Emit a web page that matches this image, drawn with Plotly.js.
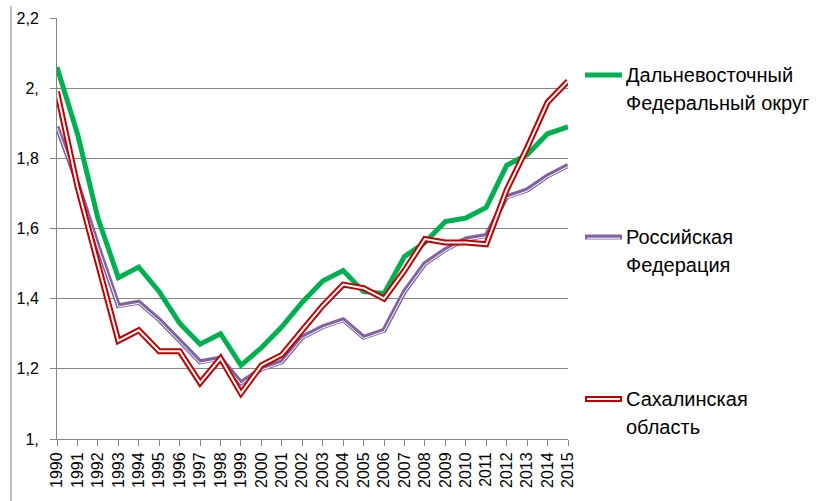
<!DOCTYPE html>
<html>
<head>
<meta charset="utf-8">
<script src="https://cdn.plot.ly/plotly-3.0.1.min.js"></script>
<style>
  html, body { margin: 0; padding: 0; background: #fff; }
  #chart { width: 818px; height: 501px; }
</style>
</head>
<body>
<div id="chart"></div>
<script>
/* data */
const years = [1990, 1991, 1992, 1993, 1994, 1995, 1996, 1997, 1998, 1999, 2000, 2001, 2002,
  2003, 2004, 2005, 2006, 2007, 2008, 2009, 2010, 2011, 2012, 2013, 2014, 2015];

const far_east = [2.06, 1.87, 1.63, 1.46, 1.49, 1.42, 1.33, 1.27, 1.30, 1.21, 1.26, 1.32, 1.39,
  1.45, 1.48, 1.42, 1.415, 1.52, 1.56, 1.62, 1.63, 1.66, 1.78, 1.81, 1.87, 1.89];
const russia = [1.89, 1.73, 1.55, 1.38, 1.39, 1.34, 1.28, 1.22, 1.23, 1.16, 1.20, 1.22, 1.29,
  1.32, 1.34, 1.29, 1.31, 1.42, 1.50, 1.54, 1.57, 1.58, 1.69, 1.71, 1.75, 1.78];
const sakhalin = [1.99, 1.72, 1.50, 1.28, 1.31, 1.25, 1.25, 1.16, 1.23, 1.13, 1.21, 1.24, 1.31,
  1.38, 1.44, 1.43, 1.40, 1.48, 1.57, 1.56, 1.56, 1.555, 1.71, 1.83, 1.96, 2.02];

const y_tick_vals = [1, 1.2, 1.4, 1.6, 1.8, 2, 2.2];
const y_tick_text = ['1,', '1,2', '1,4', '1,6', '1,8', '2,', '2,2'];

const legend_lines = [
  ['Дальневосточный', 'Федеральный округ'],
  ['Российская', 'Федерация'],
  ['Сахалинская', 'область'],
];

/* styling */
const GREEN = '#00B050';
const PURPLE = '#8064A2';
const RED = '#C00000';
const GRID = '#868686';
const FONT = 'Liberation Sans, Arial, sans-serif';

// plot box in pixels
const W = 818, H = 501;
const M = {l: 57, r: 250, t: 18, b: 62};
const px_x = px => (px - M.l) / (W - M.l - M.r);
const px_y = py => (H - M.b - py) / (H - M.t - M.b);
const y_per_px = (2.2 - 1) / (H - M.t - M.b);

const line_trace = (ys, color, width) => ({
  x: years,
  y: ys,
  type: 'scatter',
  mode: 'lines',
  line: {color: color, width: width},
  hoverinfo: 'skip',
  showlegend: false,
});

// thick-thin compound line: the thin white gap sits a bit below the middle
const russia_gap = russia.map(v => v - 1.2 * y_per_px);

const data = [
  line_trace(far_east, GREEN, 5),
  line_trace(russia, PURPLE, 5),
  line_trace(russia_gap, '#ffffff', 1),
  line_trace(sakhalin, RED, 6),
  line_trace(sakhalin, '#ffffff', 2),
];

// legend: sample lines + two-line labels
const legend_rows = [75, 237, 399];
const legend_styles = [
  [{color: GREEN, width: 5, dy: 0}],
  [{color: PURPLE, width: 5, dy: 0}, {color: '#ffffff', width: 1, dy: 1.2}],
  [{color: RED, width: 6, dy: 0}, {color: '#ffffff', width: 2, dy: 0}],
];

const shapes = [
  // grey frame edge on the left
  {type: 'line', xref: 'paper', yref: 'paper', x0: px_x(11), x1: px_x(11), y0: px_y(6), y1: px_y(501),
    line: {color: '#bfbfbf', width: 2}},
];
const annotations = [];

legend_rows.forEach((row_y, i) => {
  legend_styles[i].forEach((st, j) => {
    const inset = j === 0 ? 0 : 2;
    shapes.push({
      type: 'line', xref: 'paper', yref: 'paper',
      x0: px_x(585 + inset), x1: px_x(622 - inset),
      y0: px_y(row_y + st.dy), y1: px_y(row_y + st.dy),
      line: {color: st.color, width: st.width},
    });
  });
  legend_lines[i].forEach((txt, k) => {
    annotations.push({
      xref: 'paper', yref: 'paper',
      x: px_x(624), y: px_y(row_y + k * 28),
      xanchor: 'left', yanchor: 'middle',
      text: txt, showarrow: false,
      font: {family: FONT, size: 20, color: '#000'},
    });
  });
});

const layout = {
  width: W,
  height: H,
  margin: M,
  paper_bgcolor: '#fff',
  plot_bgcolor: '#fff',
  font: {family: FONT, size: 16, color: '#000'},
  showlegend: false,
  xaxis: {
    range: [1990, 2015],
    tickmode: 'array',
    tickvals: years,
    ticktext: years.map(String),
    tickangle: -90,
    ticks: 'outside',
    ticklen: 6,
    tickcolor: GRID,
    showline: true,
    linecolor: GRID,
    linewidth: 1,
    showgrid: false,
    zeroline: false,
    tickfont: {family: FONT, size: 16, color: '#000'},
  },
  yaxis: {
    range: [1, 2.2],
    tickmode: 'array',
    tickvals: y_tick_vals,
    ticktext: y_tick_text,
    ticks: 'outside',
    ticklen: 6,
    tickcolor: GRID,
    showline: true,
    linecolor: GRID,
    linewidth: 1,
    showgrid: true,
    gridcolor: GRID,
    gridwidth: 1,
    zeroline: false,
    ticklabelstandoff: 8,
    tickfont: {family: FONT, size: 16, color: '#000'},
  },
  shapes: shapes,
  annotations: annotations,
};

Plotly.newPlot('chart', data, layout, {staticPlot: true});
</script>
</body>
</html>
